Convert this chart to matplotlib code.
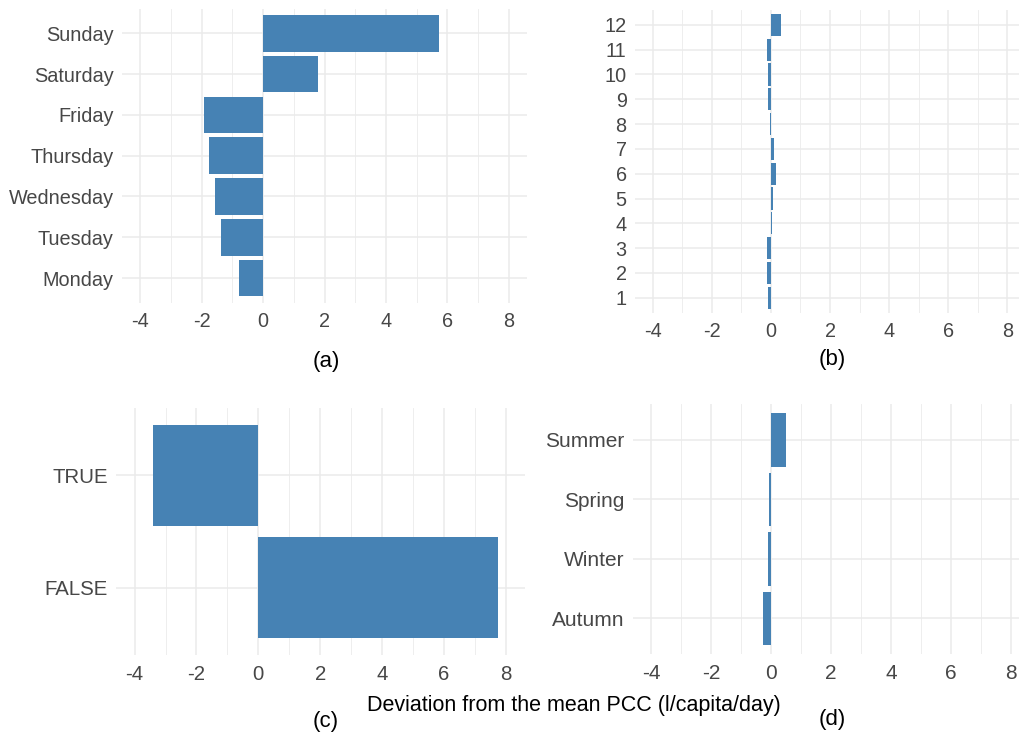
import numpy as np
import matplotlib
matplotlib.use("Agg")
import matplotlib.pyplot as plt

plt.rcParams['font.family'] = ['Liberation Sans', 'DejaVu Sans']

# data (deviation from mean PCC, l/capita/day)
days = ['Monday', 'Tuesday', 'Wednesday', 'Thursday', 'Friday', 'Saturday', 'Sunday']
day_dev = [-0.78, -1.38, -1.57, -1.77, -1.92, 1.79, 5.73]

months = ['1', '2', '3', '4', '5', '6', '7', '8', '9', '10', '11', '12']
month_dev = [-0.11, -0.14, -0.14, 0.03, 0.08, 0.17, 0.09, -0.02, -0.10, -0.09, -0.14, 0.34]

holiday = ['FALSE', 'TRUE']
holiday_dev = [7.73, -3.42]

seasons = ['Autumn', 'Winter', 'Spring', 'Summer']
season_dev = [-0.28, -0.10, -0.07, 0.51]

xticks = [-4, -2, 0, 2, 4, 6, 8]
xminor = [-3, -1, 1, 3, 5, 7]

W, H = 1019, 735
fig = plt.figure(figsize=(W / 100, H / 100), dpi=100)
fig.patch.set_facecolor('white')


def rect(left, top, right, bottom):
    # pixel box -> figure fraction
    return [left / W, 1 - bottom / H, (right - left) / W, (bottom - top) / H]


def panel(box, labels, values, fs):
    ax = fig.add_axes(rect(*box))
    pos = np.arange(len(labels))
    ax.barh(pos, values, height=0.9, color='#4682B4', zorder=2)
    ax.set_yticks(pos)
    ax.set_yticklabels(labels)
    ax.set_ylim(-0.6, len(labels) - 0.4)
    ax.set_xticks(xticks)
    ax.set_xticklabels([str(t) for t in xticks])
    ax.set_xticks(xminor, minor=True)
    ax.set_xlim(-4.6, 8.6)
    ax.grid(which='major', color='#EBEBEB', lw=1.1, zorder=0)
    ax.grid(which='minor', axis='x', color='#EBEBEB', lw=0.6, zorder=0)
    ax.set_axisbelow(True)
    for s in ax.spines.values():
        s.set_visible(False)
    ax.tick_params(which='both', length=0, labelsize=fs, labelcolor='#474747')
    ax.tick_params(axis='y', pad=6)
    ax.tick_params(axis='x', pad=7)
    return ax


panel((122, 8.8, 527, 302.5), days, day_dev, 14.3)
panel((635, 10, 1025, 312.6), months, month_dev, 14.3)
panel((116, 408, 524.5, 655), holiday, holiday_dev, 14.7)
panel((633, 404.3, 1029, 654), seasons, season_dev, 15)

fig.text(574 / W, 1 - 706 / H, 'Deviation from the mean PCC (l/capita/day)',
         ha='center', va='center', fontsize=15.5, color='black')

captions = ['(a)', '(b)', '(c)', '(d)']
cap_x = [326, 832, 326, 832]
cap_y = [361, 359, 721, 720]
for c, x, y in zip(captions, cap_x, cap_y):
    fig.text(x / W, 1 - y / H, c, ha='center', va='center', fontsize=16, color='black')

fig.savefig('out.png', dpi=100)
